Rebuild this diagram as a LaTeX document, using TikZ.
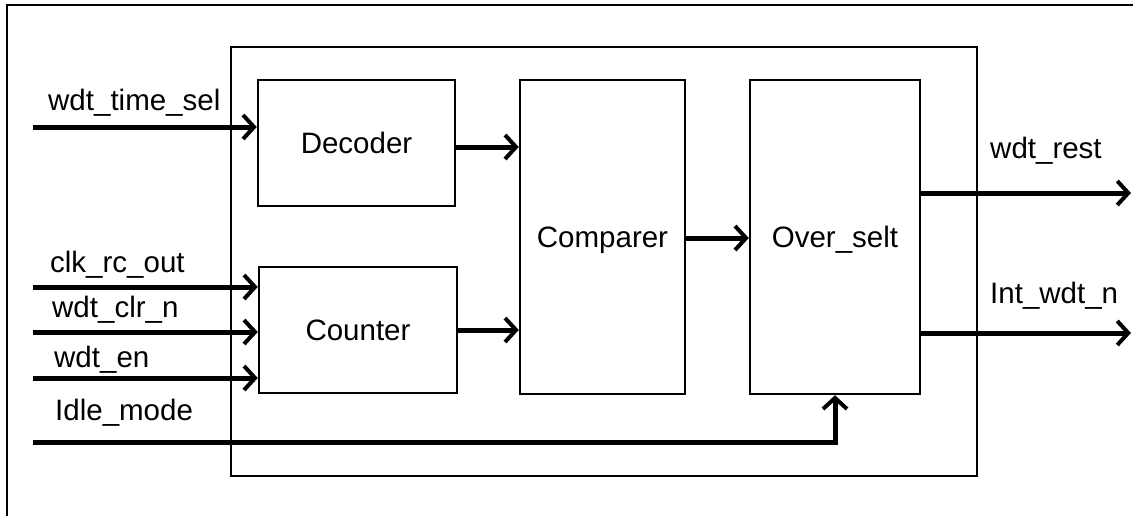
\documentclass[tikz,border=0pt]{standalone}
\usepackage{fontspec}
\setmainfont{Liberation Sans}
\usetikzlibrary{arrows.meta,calc,positioning}
\tikzset{
  block/.style={draw,line width=2.5pt,fill=white,inner sep=0pt,text height=21pt,text depth=0pt},
  sig/.style={line width=5pt,-{Straight Barb[length=11pt,width=24pt,line width=4pt]}},
  lbl/.style={anchor=base west,inner sep=0pt}
}
\begin{document}
\begin{tikzpicture}[x=1pt,y=-1pt,font=\fontsize{29.5}{34}\selectfont]
  \useasboundingbox (0,0) rectangle (1133,515);
  \clip (0,0) rectangle (1133,515);
  % frames
  \draw[line width=2.5pt] (7,5) rectangle (1160,540);
  \node[block,minimum width=746pt,minimum height=429pt] (wdt) at (604,261.5) {};
  % blocks
  \node[block,minimum width=197pt,minimum height=126pt] (dec) at (356.5,143) {Decoder};
  \node[block,minimum width=198pt,minimum height=126pt] (cnt) at (358,330) {Counter};
  \node[block,minimum width=165pt,minimum height=314pt] (cmp) at (602.5,237) {Comparer};
  \node[block,minimum width=170pt,minimum height=314pt] (ovs) at (835,237) {Over\_selt};
  % inputs
  \coordinate (tsel) at (33,127);
  \coordinate (clk) at (33,287);
  \coordinate (clr) at (33,332);
  \coordinate (en) at (33,378);
  \coordinate (idle) at (33,442);
  \draw[sig] (tsel) -- (tsel -| dec.west);
  \draw[sig] (clk) -- (clk -| cnt.west);
  \draw[sig] (clr) -- (clr -| cnt.west);
  \draw[sig] (en) -- (en -| cnt.west);
  \draw[sig] (idle) -- (idle -| ovs.south) -- (ovs.south);
  \node[lbl] (tsel-l) at (48,110) {wdt\_time\_sel};
  \node[lbl] (clk-l) at (50,272) {clk\_rc\_out};
  \node[lbl] (clr-l) at (52,317) {wdt\_clr\_n};
  \node[lbl] (en-l) at (54,367) {wdt\_en};
  \node[lbl] (idle-l) at (55,420) {Idle\_mode};
  % internal
  \draw[sig] (dec.east |- 0,147) -- (cmp.west |- 0,147);
  \draw[sig] (cnt.east) -- (cmp.west |- cnt.east);
  \draw[sig] (cmp.east |- 0,238) -- (ovs.west |- 0,238);
  % outputs
  \coordinate (rst) at (1131,193);
  \coordinate (int) at (1131,333);
  \draw[sig] (ovs.east |- rst) -- (rst);
  \draw[sig] (ovs.east |- int) -- (int);
  \node[lbl] (rst-l) at (990,158) {wdt\_rest};
  \node[lbl] (int-l) at (990,303) {Int\_wdt\_n};
\end{tikzpicture}
\end{document}
